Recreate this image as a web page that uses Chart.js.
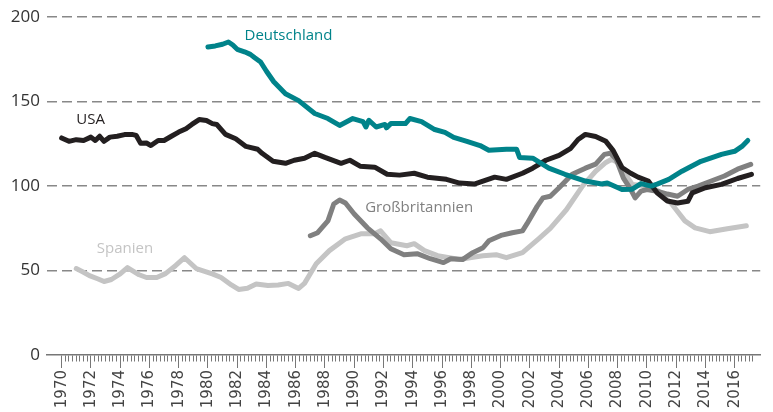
<!DOCTYPE html>
<html>
<head>
<meta charset="utf-8">
<script src="https://cdn.jsdelivr.net/npm/chart.js@4"></script>
<style>
  html, body { margin: 0; padding: 0; background: #fff; }
  #wrap { width: 773px; height: 412px; }
</style>
</head>
<body>
<div id="wrap"><canvas id="chart"></canvas></div>
<script>
// x = Jahr (Dezimaljahr), y = Indexwert
const usaYears = [1970.0, 1970.5, 1971.0, 1971.5, 1972.0, 1972.3, 1972.6, 1972.9, 1973.3, 1973.8, 1974.3, 1974.8, 1975.1, 1975.4, 1975.8, 1976.1, 1976.6, 1977.0, 1977.5, 1978.0, 1978.5, 1978.9, 1979.4, 1979.9, 1980.3, 1980.6, 1981.2, 1981.9, 1982.6, 1983.4, 1983.7, 1984.45, 1985.3, 1985.9, 1986.6, 1987.3, 1988.0, 1989.1, 1989.7, 1990.4, 1991.4, 1992.25, 1993.1, 1994.1, 1995.0, 1996.3, 1997.2, 1998.2, 1998.8, 1999.6, 2000.4, 2001.5, 2002.2, 2003.1, 2004.0, 2004.8, 2005.3, 2005.8, 2006.5, 2007.2, 2007.7, 2008.3, 2008.9, 2009.4, 2010.1, 2010.7, 2011.4, 2012.1, 2012.8, 2013.1, 2014.0, 2015.1, 2016.2, 2017.15];
const usaValues = [128.5, 126.5, 127.5, 127, 129, 127, 129.5, 126.5, 129, 129.5, 130.5, 130.6, 130, 125.3, 125.5, 124, 127, 127, 129.5, 132, 134, 136.5, 139.4, 138.8, 137, 136.5, 130.6, 128, 123.5, 121.8, 119.4, 114.7, 113.5, 115.3, 116.5, 119.4, 117, 113.5, 115.3, 111.8, 111.2, 107, 106.5, 107.6, 105.3, 104, 101.8, 101.2, 103, 105.3, 104, 107.6, 110.6, 115.3, 118.2, 122.4, 127.6, 130.6, 129.4, 126.5, 121, 111, 107.6, 105.3, 103, 96, 91.2, 90, 91, 96, 99, 101, 104.5, 107];

const deYears = [1980.0, 1980.5, 1981.0, 1981.4, 1981.7, 1982.0, 1982.5, 1982.9, 1983.2, 1983.6, 1984.0, 1984.5, 1985.3, 1986.2, 1987.3, 1988.2, 1989.0, 1989.9, 1990.6, 1990.8, 1991.0, 1991.5, 1992.1, 1992.2, 1992.5, 1993.5, 1993.8, 1994.6, 1995.5, 1996.2, 1996.8, 1997.7, 1998.6, 1999.2, 2000.4, 2001.1, 2001.3, 2002.2, 2003.3, 2004.4, 2005.8, 2006.9, 2007.3, 2008.3, 2009.0, 2009.6, 2010.3, 2010.7, 2011.5, 2012.4, 2013.7, 2015.1, 2016.0, 2016.5, 2016.9];
const deValues = [182.4, 183, 184, 185.3, 183.5, 181, 179.5, 178, 176, 173.5, 168, 161.8, 154.7, 150.6, 143, 140, 135.9, 140, 138.2, 135, 139, 135, 136.5, 134.5, 137, 137, 140, 138.2, 133.5, 131.8, 128.8, 126.5, 124, 121.2, 121.8, 121.8, 117, 116.5, 110.6, 107, 103, 101.2, 101.8, 98, 98.2, 101.5, 100, 101.2, 104, 108.8, 114.7, 118.8, 120.6, 123.5, 127];

const gbYears = [1987.0, 1987.5, 1988.2, 1988.6, 1989.0, 1989.4, 1990.0, 1990.9, 1991.8, 1992.5, 1993.4, 1994.3, 1995.2, 1996.1, 1996.6, 1997.4, 1998.1, 1998.8, 1999.2, 2000.1, 2000.8, 2001.5, 2001.8, 2002.5, 2002.9, 2003.4, 2004.0, 2004.9, 2005.8, 2006.5, 2007.1, 2007.5, 2007.9, 2008.4, 2008.9, 2009.2, 2009.6, 2010.0, 2010.7, 2011.4, 2012.1, 2012.8, 2013.5, 2014.4, 2015.3, 2016.2, 2017.1];
const gbValues = [70.6, 72.4, 79.4, 89.4, 91.8, 90, 83.5, 75.3, 68.8, 62.9, 59.4, 60, 57, 54.7, 57, 56.5, 60.6, 63.5, 67.6, 71, 72.4, 73.5, 77.6, 88, 93, 94, 99, 107, 110.6, 113, 118.8, 119.4, 116, 104.7, 98, 93, 97, 98, 97, 95.3, 94, 98, 100, 103, 106, 110, 112.9];

const esYears = [1971.0, 1971.5, 1971.9, 1972.5, 1972.9, 1973.4, 1974.0, 1974.5, 1975.3, 1975.8, 1976.5, 1977.1, 1977.8, 1978.4, 1979.2, 1980.3, 1980.9, 1981.6, 1982.1, 1982.7, 1983.3, 1984.1, 1984.8, 1985.5, 1986.2, 1986.6, 1987.4, 1988.3, 1989.4, 1990.5, 1991.4, 1991.8, 1992.5, 1993.6, 1994.1, 1994.8, 1995.7, 1996.5, 1997.2, 1997.9, 1998.8, 1999.7, 2000.4, 2001.5, 2002.6, 2003.4, 2004.5, 2005.6, 2006.5, 2007.2, 2007.6, 2008.0, 2008.4, 2009.0, 2010.0, 2010.8, 2011.7, 2012.6, 2013.3, 2014.3, 2015.5, 2016.8];
const esValues = [51.2, 49, 47, 45, 43.5, 44.7, 48, 51.8, 47.5, 45.9, 45.9, 48.2, 53, 57.6, 51.2, 48, 45.9, 41.5, 38.8, 39.5, 42, 41.2, 41.5, 42.4, 39.4, 42.4, 54, 61.8, 68.8, 71.8, 71.8, 73.5, 66.5, 64.7, 65.9, 61.8, 58.8, 57.6, 56.5, 57.6, 58.8, 59.4, 57.6, 60.6, 68.8, 75, 86, 100, 108.8, 114, 115.9, 114, 108.8, 101, 100, 97, 89.4, 79.4, 75.3, 73, 74.7, 76.5];

const yTicks = [0, 50, 100, 150, 200];

function points(xs, ys) {
  return xs.map((x, i) => ({ x: x, y: ys[i] }));
}

// Quartals-Striche 1970 bis 2017
function quarterTicks() {
  const t = [];
  for (let q = 1970 * 4; q <= 2017.25 * 4; q++) t.push({ value: q / 4 });
  return t;
}

const isLabelYear = v => Number.isInteger(v) && v % 2 === 0;

const seriesLabels = [
  { text: "Deutschland", x: 1982.5, y: 188.8, color: "#00838a" },
  { text: "USA", x: 1971.0, y: 139.4, color: "#231f20" },
  { text: "Großbritannien", x: 1990.75, y: 87, color: "#808080" },
  { text: "Spanien", x: 1972.4, y: 63, color: "#c4c4c4" }
];

const labelPlugin = {
  id: "seriesLabels",
  afterDatasetsDraw(chart) {
    const { ctx, scales } = chart;
    ctx.save();
    ctx.font = "15px 'Open Sans'";
    ctx.textAlign = "left";
    ctx.textBaseline = "middle";
    seriesLabels.forEach(l => {
      ctx.fillStyle = l.color;
      ctx.fillText(l.text, scales.x.getPixelForValue(l.x), scales.y.getPixelForValue(l.y));
    });
    ctx.restore();
  }
};

const common = { fill: false, pointRadius: 0, borderWidth: 5, tension: 0, borderJoinStyle: "round", borderCapStyle: "round" };

new Chart(document.getElementById("chart"), {
  type: "line",
  data: {
    datasets: [
      { ...common, label: "Deutschland", data: points(deYears, deValues), borderColor: "#00838a" },
      { ...common, label: "USA", data: points(usaYears, usaValues), borderColor: "#231f20" },
      { ...common, label: "Großbritannien", data: points(gbYears, gbValues), borderColor: "#808080" },
      { ...common, label: "Spanien", data: points(esYears, esValues), borderColor: "#c4c4c4" }
    ]
  },
  options: {
    responsive: true,
    maintainAspectRatio: false,
    animation: false,
    layout: { padding: { top: 15, right: 8, left: 0, bottom: 0 } },
    plugins: { legend: { display: false }, tooltip: { enabled: false } },
    scales: {
      x: {
        type: "linear",
        position: "bottom",
        min: 1969,
        max: 2017.75,
        afterBuildTicks: s => { s.ticks = quarterTicks(); },
        afterFit: s => { s.height = 57; },
        ticks: {
          autoSkip: false,
          minRotation: 90,
          maxRotation: 90,
          padding: 2,
          color: "#444",
          font: { family: "'DejaVu Sans'", size: 15 },
          callback: v => isLabelYear(v) ? String(v) : ""
        },
        grid: {
          drawOnChartArea: false,
          tickLength: 13,
          tickWidth: 1,
          tickColor: "#777",
          // kurze Striche fuer Quartale, lange fuer gerade Jahre
          tickBorderDash: c => isLabelYear(c.tick.value) ? [] : [6, 40]
        },
        border: { display: true, color: "#777", width: 1.5 }
      },
      y: {
        min: 0,
        max: 200,
        afterBuildTicks: s => { s.ticks = yTicks.map(v => ({ value: v })); },
        afterFit: s => { s.width = 47; },
        ticks: { color: "#333", padding: 7, font: { family: "'Open Sans'", size: 17 } },
        grid: {
          drawTicks: false,
          lineWidth: 1.5,
          color: c => c.tick.value === 0 ? "rgba(0,0,0,0)" : "#888"
        },
        border: { display: false, dash: [10, 5] }
      }
    }
  },
  plugins: [labelPlugin]
});
</script>
</body>
</html>
